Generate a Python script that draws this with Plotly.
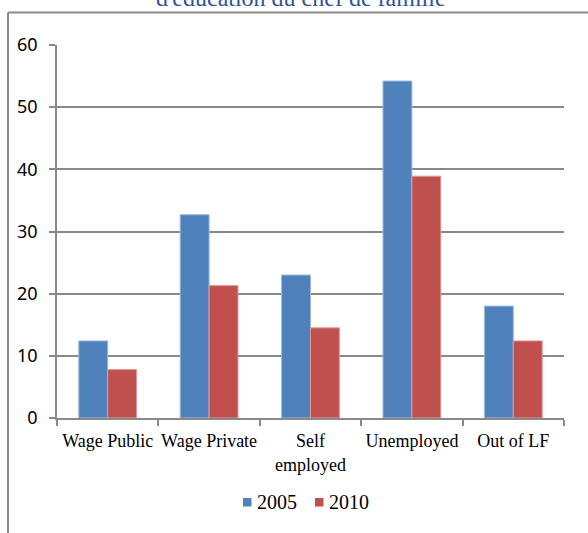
import plotly.graph_objects as go

categories = ["Wage Public", "Wage Private", "Self<br>employed", "Unemployed", "Out of LF"]
values_2005 = [12.4, 32.7, 23.0, 54.2, 18.0]
values_2010 = [7.8, 21.3, 14.5, 38.9, 12.4]
series_names = ["2005", "2010"]
title_text = "d'éducation du chef de famille"

BLUE = "#4F81BD"
RED = "#C0504D"
GRID = "#898989"
colors = [BLUE, RED]

fig = go.Figure()
fig.add_trace(go.Bar(
    name=series_names[0], x=categories, y=values_2005,
    marker=dict(color=BLUE, line=dict(color="#9DB9DD", width=1)),
))
fig.add_trace(go.Bar(
    name=series_names[1], x=categories, y=values_2010,
    marker=dict(color=RED, line=dict(color="#E09A98", width=1)),
))

# plot area: x 57..564 px, y 45..418 px
W, H = 507.0, 373.0
def px(x):
    return (x - 57) / W
def py(y):
    return (418 - y) / H

shapes = [
    dict(type="line", xref="paper", yref="paper", x0=px(8), x1=px(600),
         y0=py(12.5), y1=py(12.5), line=dict(color="#8A8A8A", width=2)),
    dict(type="line", xref="paper", yref="paper", x0=px(8), x1=px(8),
         y0=py(12.5), y1=py(545), line=dict(color="#8A8A8A", width=2)),
]
annotations = [
    dict(text=title_text, xref="paper", yref="paper", x=px(301), y=py(13),
         xanchor="center", yanchor="bottom", showarrow=False,
         font=dict(family="Liberation Serif", size=24, color="#2F5597")),
]

# legend drawn by hand: small square + label, Excel style
legend_x = [243, 315]
for name, color, lx in zip(series_names, colors, legend_x):
    shapes.append(dict(type="rect", xref="paper", yref="paper",
                       x0=px(lx), x1=px(lx + 8.5), y0=py(506.5), y1=py(498),
                       fillcolor=color, line=dict(width=0)))
    annotations.append(dict(text=name, xref="paper", yref="paper",
                            x=px(lx + 12), y=py(502), xanchor="left", yanchor="middle",
                            showarrow=False,
                            font=dict(family="Liberation Serif", size=20, color="black")))

fig.update_layout(
    width=588, height=533,
    margin=dict(l=57, r=24, t=45, b=115),
    paper_bgcolor="white", plot_bgcolor="white",
    barmode="group", bargap=0.43, bargroupgap=0,
    showlegend=False,
    font=dict(family="Liberation Serif", color="black"),
    shapes=shapes,
    annotations=annotations,
)

fig.update_yaxes(
    range=[0, 60], dtick=10, showgrid=True, gridcolor=GRID, gridwidth=1.5,
    showline=True, linecolor=GRID, linewidth=1.5,
    ticks="outside", ticklen=6, tickcolor=GRID, tickwidth=1.5,
    tickfont=dict(family="Noto Sans", size=18, color="black"),
    ticklabelstandoff=8,
    zeroline=False, automargin=False,
)
fig.update_xaxes(
    showline=True, linecolor=GRID, linewidth=1.5,
    ticks="outside", tickson="boundaries", ticklen=6, tickcolor=GRID, tickwidth=1.5,
    tickfont=dict(family="Liberation Serif", size=18, color="black"),
    ticklabelstandoff=6,
    tickangle=0, showgrid=False, automargin=False,
)

fig.write_html("out.html", config={"displayModeBar": False},
               post_script="document.body.style.margin='0';")
